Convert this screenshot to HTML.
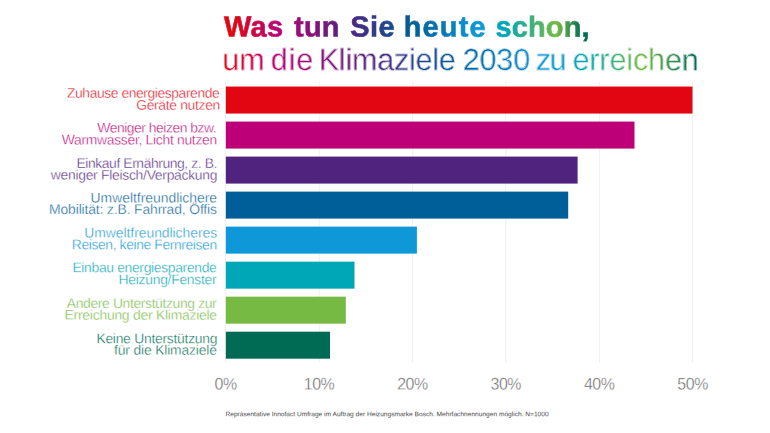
<!DOCTYPE html>
<html><head><meta charset="utf-8"><title>Klimaziele</title>
<style>
html,body{margin:0;padding:0;background:#fff;}
body{width:770px;height:433px;position:relative;overflow:hidden;font-family:"Liberation Sans",sans-serif;}
svg{position:absolute;left:0;top:0;}
.t{position:absolute;white-space:nowrap;line-height:1;transform-origin:0 50%;}
.l{position:absolute;white-space:nowrap;line-height:1;font-size:13.9px;text-align:right;-webkit-text-stroke:0.3px #fff;transform-origin:100% 50%;}
.ax{position:absolute;white-space:nowrap;line-height:1;font-size:16.8px;letter-spacing:-0.5px;color:#5c5c5c;top:376px;-webkit-text-stroke:0.4px #fff;}
.g1{background:linear-gradient(90deg,#E20613 10px,#B90276 55px,#50237F 125px,#005E98 190px,#0F98D8 255px,#00A7B6 282px,#76BA44 334px,#006B54 360px);-webkit-background-clip:text;background-clip:text;color:transparent;}
.g2{background:linear-gradient(90deg,#E20613 0px,#B90276 56px,#50237F 150px,#005E98 235px,#0F98D8 325px,#00A7B6 360px,#76BA44 420px,#006B54 470px);-webkit-background-clip:text;background-clip:text;color:transparent;}
</style></head><body>

<svg width="770" height="433" viewBox="0 0 770 433">
<rect x="225.00" y="82" width="1" height="281" fill="#f0f0f0"/>
<rect x="318.80" y="82" width="1" height="281" fill="#f0f0f0"/>
<rect x="412.10" y="82" width="1" height="281" fill="#f0f0f0"/>
<rect x="505.20" y="82" width="1" height="281" fill="#f0f0f0"/>
<rect x="598.90" y="82" width="1" height="281" fill="#f0f0f0"/>
<rect x="692.10" y="82" width="1" height="281" fill="#f0f0f0"/>
<rect x="225.85" y="86.55" width="466.65" height="27.0" fill="#E20613"/>
<rect x="225.85" y="121.57" width="408.65" height="27.0" fill="#BD0078"/>
<rect x="225.85" y="156.59" width="351.75" height="27.0" fill="#50237F"/>
<rect x="225.85" y="191.61" width="342.35" height="27.0" fill="#005E98"/>
<rect x="225.85" y="226.63" width="191.05" height="27.0" fill="#0F98D8"/>
<rect x="225.85" y="261.65" width="128.65" height="27.0" fill="#00A7B6"/>
<rect x="225.85" y="296.67" width="119.95" height="27.0" fill="#76BA44"/>
<rect x="225.85" y="331.69" width="104.15" height="27.0" fill="#006B54"/>
</svg>
<div class="t g1" id="t1" style="left:222px;top:12px;transform:translate(0.9px,0.5px) skewY(0.03deg);font-size:29px;font-weight:bold;letter-spacing:0.74px;-webkit-text-stroke:0.6px transparent;"><span style="letter-spacing:0.240px;margin-left:1.12px">Was</span> <span style="letter-spacing:0.240px;margin-left:1.88px">tun</span> <span style="letter-spacing:0.400px;margin-left:1.68px">Sie</span> <span style="letter-spacing:1.170px;margin-left:-0.16px">heute</span> <span style="letter-spacing:0.140px;margin-left:-0.24px">schon,</span></div>
<div class="t g2" id="t2" style="left:223px;top:43px;transform:translate(0px,0.9px) skewY(0.03deg);font-size:30.5px;letter-spacing:0.21px;-webkit-text-stroke:0.5px #fff;"><span style="letter-spacing:0.010px;margin-left:-0.76px">um</span> <span style="letter-spacing:0.870px;margin-left:-2.48px">die</span> <span style="letter-spacing:-0.217px;margin-left:-4.16px">Klimaziele</span> <span style="letter-spacing:-0.150px;margin-left:-1.52px">2030</span> <span style="letter-spacing:-1.470px;margin-left:-3.04px">zu</span> <span style="letter-spacing:-0.110px;margin-left:-1.16px">erreichen</span></div>
<div class="l" id="l00" style="right:551px;top:86px;transform:translate(0.000px,0.850px) skewY(0.03deg);color:#E3121F;letter-spacing:-0.430px">Zuhause energiesparende</div>
<div class="l" id="l01" style="right:550px;top:98px;transform:translate(0.185px,0.700px) skewY(0.03deg);color:#E3121F;letter-spacing:-0.330px">Geräte nutzen</div>
<div class="l" id="l10" style="right:554px;top:121px;transform:translate(0.280px,0.600px) skewY(0.03deg);color:#C00D7F;letter-spacing:-0.473px">Weniger heizen bzw.</div>
<div class="l" id="l11" style="right:554px;top:133px;transform:translate(0.700px,0.450px) skewY(0.03deg);color:#C00D7F;letter-spacing:-0.298px">Warmwasser, Licht nutzen</div>
<div class="l" id="l20" style="right:554px;top:157px;transform:translate(0.455px,0.000px) skewY(0.03deg);color:#592E85;letter-spacing:-0.420px">Einkauf Ernährung, z. B.</div>
<div class="l" id="l21" style="right:554px;top:168px;transform:translate(0.755px,0.700px) skewY(0.03deg);color:#592E85;letter-spacing:-0.280px">weniger Fleisch/Verpackung</div>
<div class="l" id="l30" style="right:554px;top:191px;transform:translate(0.580px,0.600px) skewY(0.03deg);color:#0D669D;letter-spacing:-0.008px">Umweltfreundlichere</div>
<div class="l" id="l31" style="right:553px;top:203px;transform:translate(0.105px,0.000px) skewY(0.03deg);color:#0D669D;letter-spacing:-0.139px">Mobilität: z.B. Fahrrad, Öffis</div>
<div class="l" id="l40" style="right:553px;top:226px;transform:translate(0.280px,0.500px) skewY(0.03deg);color:#1B9DDA;letter-spacing:-0.037px">Umweltfreundlicheres</div>
<div class="l" id="l41" style="right:554px;top:238px;transform:translate(0.755px,0.400px) skewY(0.03deg);color:#1B9DDA;letter-spacing:-0.391px">Reisen, keine Fernreisen</div>
<div class="l" id="l50" style="right:554px;top:261px;transform:translate(0.405px,0.300px) skewY(0.03deg);color:#0DABBA;letter-spacing:-0.332px">Einbau energiesparende</div>
<div class="l" id="l51" style="right:554px;top:273px;transform:translate(0.580px,0.300px) skewY(0.03deg);color:#0DABBA;letter-spacing:-0.275px">Heizung/Fenster</div>
<div class="l" id="l60" style="right:554px;top:297px;transform:translate(0.755px,0.000px) skewY(0.03deg);color:#7DBD4D;letter-spacing:-0.361px">Andere Unterstützung zur</div>
<div class="l" id="l61" style="right:554px;top:308px;transform:translate(0.580px,0.700px) skewY(0.03deg);color:#7DBD4D;letter-spacing:-0.241px">Erreichung der Klimaziele</div>
<div class="l" id="l70" style="right:553px;top:332px;transform:translate(0.375px,0.300px) skewY(0.03deg);color:#0D725D;letter-spacing:-0.264px">Keine Unterstützung</div>
<div class="l" id="l71" style="right:553px;top:343px;transform:translate(0.105px,0.750px) skewY(0.03deg);color:#0D725D;letter-spacing:-0.177px">für die Klimaziele</div>
<div class="ax" style="left:225px;transform:translate(-50%,0) translate(0.60px,0.6px) scaleX(0.95) skewY(0.03deg)">0%</div>
<div class="ax" style="left:319px;transform:translate(-50%,0) translate(0.00px,0.6px) scaleX(0.95) skewY(0.03deg)">10%</div>
<div class="ax" style="left:412px;transform:translate(-50%,0) translate(0.40px,0.6px) scaleX(0.95) skewY(0.03deg)">20%</div>
<div class="ax" style="left:505px;transform:translate(-50%,0) translate(0.80px,0.6px) scaleX(0.95) skewY(0.03deg)">30%</div>
<div class="ax" style="left:599px;transform:translate(-50%,0) translate(0.20px,0.6px) scaleX(0.95) skewY(0.03deg)">40%</div>
<div class="ax" style="left:692px;transform:translate(-50%,0) translate(0.60px,0.6px) scaleX(0.95) skewY(0.03deg)">50%</div>
<div class="t" id="ft" style="left:225px;top:411px;transform:translate(0.5px,0.2px) skewY(0.03deg);font-size:6.6px;color:#4a4a4a;">Repräsentative Innofact Umfrage im Auftrag der Heizungsmarke Bosch. Mehrfachnennungen möglich. N=1000</div>
</body></html>
